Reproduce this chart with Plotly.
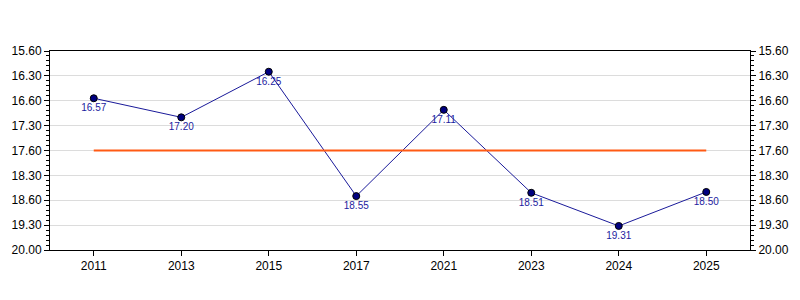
import plotly.graph_objects as go

# Data (times shown as minutes.seconds)
years = ["2011", "2013", "2015", "2017", "2021", "2023", "2024", "2025"]
times = ["16.57", "17.20", "16.25", "18.55", "17.11", "18.51", "19.31", "18.50"]
target = "17.60"
tick_labels = ["15.60", "16.30", "16.60", "17.30", "17.60", "18.30", "18.60", "19.30", "20.00"]
tick_minutes = [16.0, 16.5, 17.0, 17.5, 18.0, 18.5, 19.0, 19.5, 20.0]


def to_minutes(s):
    m, sec = s.split(".")
    return int(m) + int(sec) / 60.0


y_vals = [to_minutes(t) for t in times]
target_val = to_minutes(target)

fig = go.Figure()

fig.add_trace(go.Scatter(
    x=years, y=y_vals, mode="lines+markers+text",
    text=times, textposition="bottom center",
    textfont=dict(family="Liberation Sans, Arial", size=10, color="#1c1ca0"),
    line=dict(color="#1a1a9a", width=1),
    marker=dict(size=7, color="#000080", line=dict(color="#000000", width=1)),
    cliponaxis=False, showlegend=False,
))

fig.add_trace(go.Scatter(
    x=[years[0], years[-1]], y=[target_val, target_val], mode="lines",
    line=dict(color="#ff5a14", width=2), showlegend=False,
))

# invisible trace for right axis
fig.add_trace(go.Scatter(
    x=[years[0]], y=[target_val], yaxis="y2", mode="markers",
    marker=dict(opacity=0), showlegend=False, hoverinfo="skip",
))

yaxis_common = dict(
    range=[20.0, 16.0],
    tickmode="array", tickvals=tick_minutes, ticktext=tick_labels,
    ticks="outside", ticklen=5, tickcolor="black", tickwidth=1,
    showline=True, linecolor="black", linewidth=1,
    tickfont=dict(family="Liberation Sans, Arial", size=12, color="black"),
    minor=dict(tick0=16.0, dtick=0.1, ticks="outside", ticklen=3,
               tickcolor="black", tickwidth=1, showgrid=False),
    zeroline=False,
)

fig.update_layout(
    width=800, height=300,
    margin=dict(l=50, r=50, t=51, b=50),
    paper_bgcolor="white", plot_bgcolor="white",
    xaxis=dict(
        type="category", range=[-0.5, 7.5],
        ticks="outside", ticklen=5, tickcolor="black",
        showline=True, linecolor="black", linewidth=1, mirror=True,
        showgrid=False,
        tickfont=dict(family="Liberation Sans, Arial", size=12, color="black"),
    ),
    yaxis=dict(**yaxis_common, showgrid=True, gridcolor="#dcdcdc", gridwidth=1),
    yaxis2=dict(**yaxis_common, overlaying="y", side="right", showgrid=False),
)

fig.write_html("out.html")
